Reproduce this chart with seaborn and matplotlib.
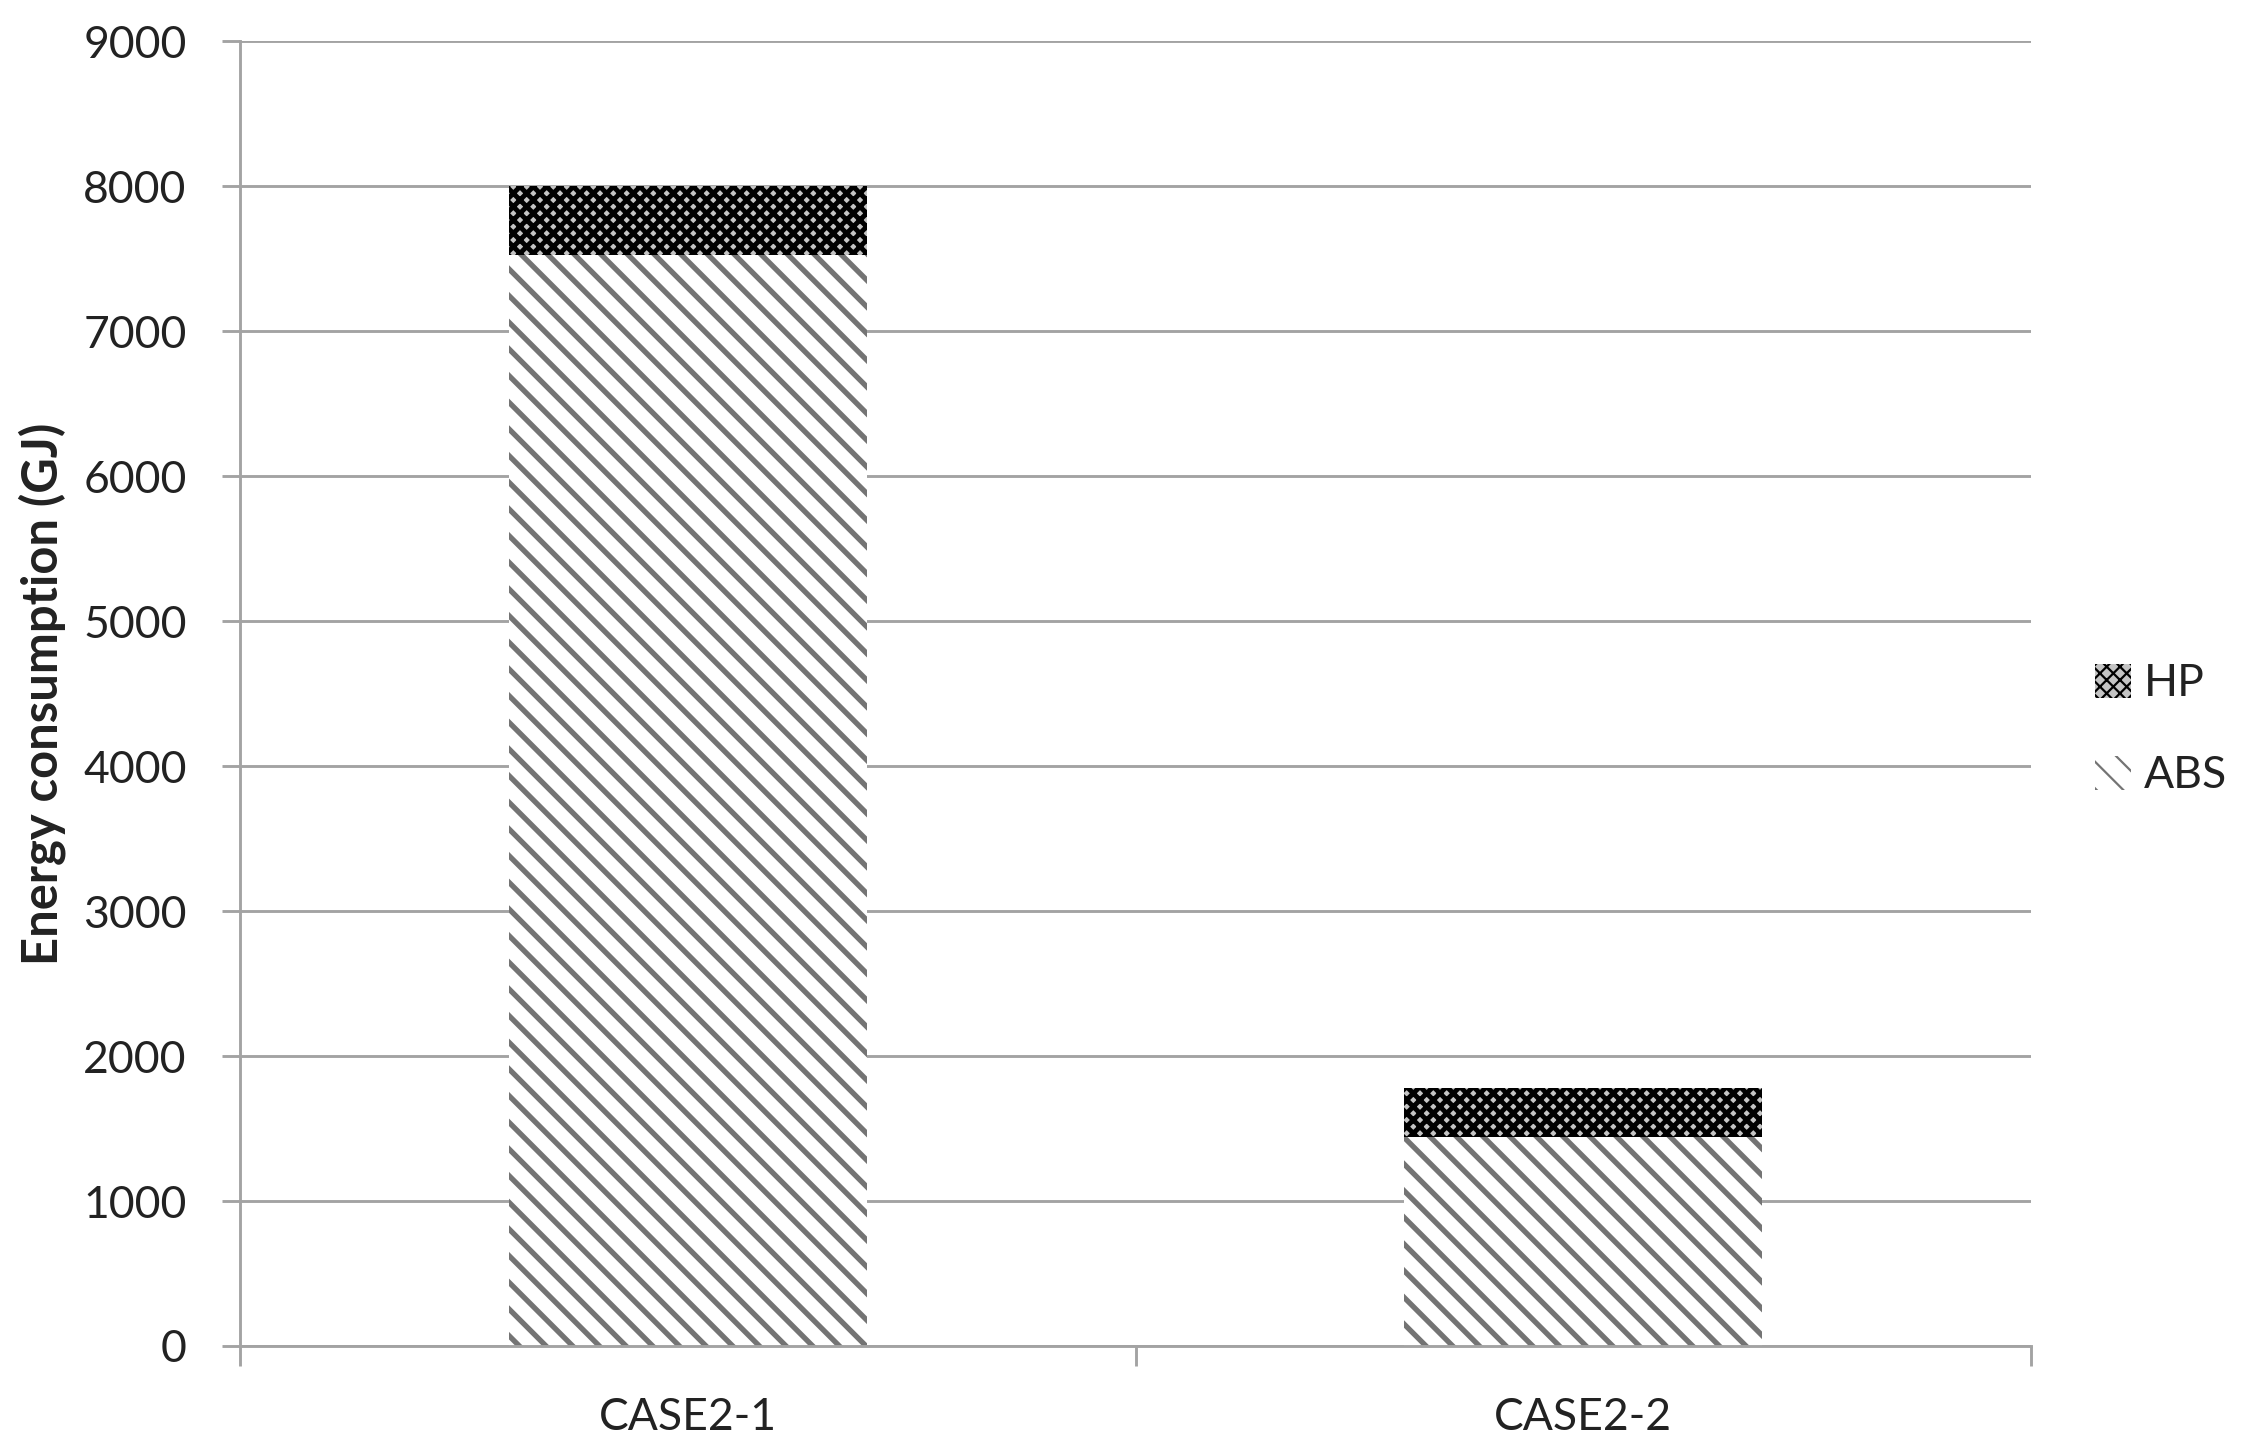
import numpy as np
import pandas as pd
import matplotlib
matplotlib.use('Agg')
import matplotlib.pyplot as plt
import matplotlib.patches as mpatches
import seaborn as sns

# 数据
cases = ['CASE2-1', 'CASE2-2']
abs_vals = [7530, 1440]
hp_vals = [470, 340]
y_ticks = [0, 1000, 2000, 3000, 4000, 5000, 6000, 7000, 8000, 9000]

sns.set_style('white')
plt.rcParams['font.family'] = ['Lato', 'DejaVu Sans']

df = pd.DataFrame({'case': cases, 'ABS': abs_vals, 'HP': hp_vals})
df['total'] = df['ABS'] + df['HP']

grid_c = '#a3a3a3'
fig = plt.figure(figsize=(2243 / 160, 1454 / 160), dpi=160)
ax = fig.add_axes([0.107, 0.0743, 0.7985, 0.8972])

# HP 画在总高度上，再用 ABS 覆盖下半部分
with plt.rc_context({'hatch.linewidth': 2.2}):
    sns.barplot(data=df, x='case', y='total', ax=ax, color='#c4c4c4', saturation=1,
                width=0.4, hatch='xxxx', edgecolor='black', linewidth=0)
    hp_patch = mpatches.Patch(facecolor='#c4c4c4', edgecolor='black', hatch='xxxx', linewidth=0, label='HP')
with plt.rc_context({'hatch.linewidth': 2.4}):
    sns.barplot(data=df, x='case', y='ABS', ax=ax, color='white', saturation=1,
                width=0.4, hatch='\\\\', edgecolor='#747474', linewidth=0)
    abs_patch = mpatches.Patch(facecolor='white', edgecolor='#747474', hatch='\\\\', linewidth=0, label='ABS')

ax.set_xlim(-0.5, 1.5)
ax.set_ylim(0, 9000)
ax.set_yticks(y_ticks)
ax.set_xticks([-0.5, 0.5, 1.5], minor=True)
ax.tick_params(axis='x', which='major', length=0, pad=23, labelsize=20, labelcolor='#222222')
ax.tick_params(axis='x', which='minor', length=9, width=1.3, color=grid_c, direction='out', bottom=True)
ax.tick_params(axis='y', length=8, width=1.3, color=grid_c, direction='out', left=True,
               pad=16, labelsize=20, labelcolor='#222222')

ax.yaxis.grid(True, color=grid_c, linewidth=1.3)
ax.set_axisbelow(True)
for s in ['top', 'right']:
    ax.spines[s].set_visible(False)
for s in ['left', 'bottom']:
    ax.spines[s].set_color(grid_c)
    ax.spines[s].set_linewidth(1.3)

ax.set_xlabel('')
ax.set_ylabel('Energy consumption (GJ)', fontsize=22, fontweight='bold', color='#222222')
ax.yaxis.set_label_coords(-0.097, 0.5)

fig.legend(handles=[hp_patch, abs_patch], loc='center left', bbox_to_anchor=(0.934, 0.498),
           frameon=False, fontsize=20, handlelength=0.8, handleheight=0.8,
           handletextpad=0.3, labelspacing=1.15, borderpad=0, borderaxespad=0,
           labelcolor='#222222')

fig.savefig('out.png', dpi=160)
